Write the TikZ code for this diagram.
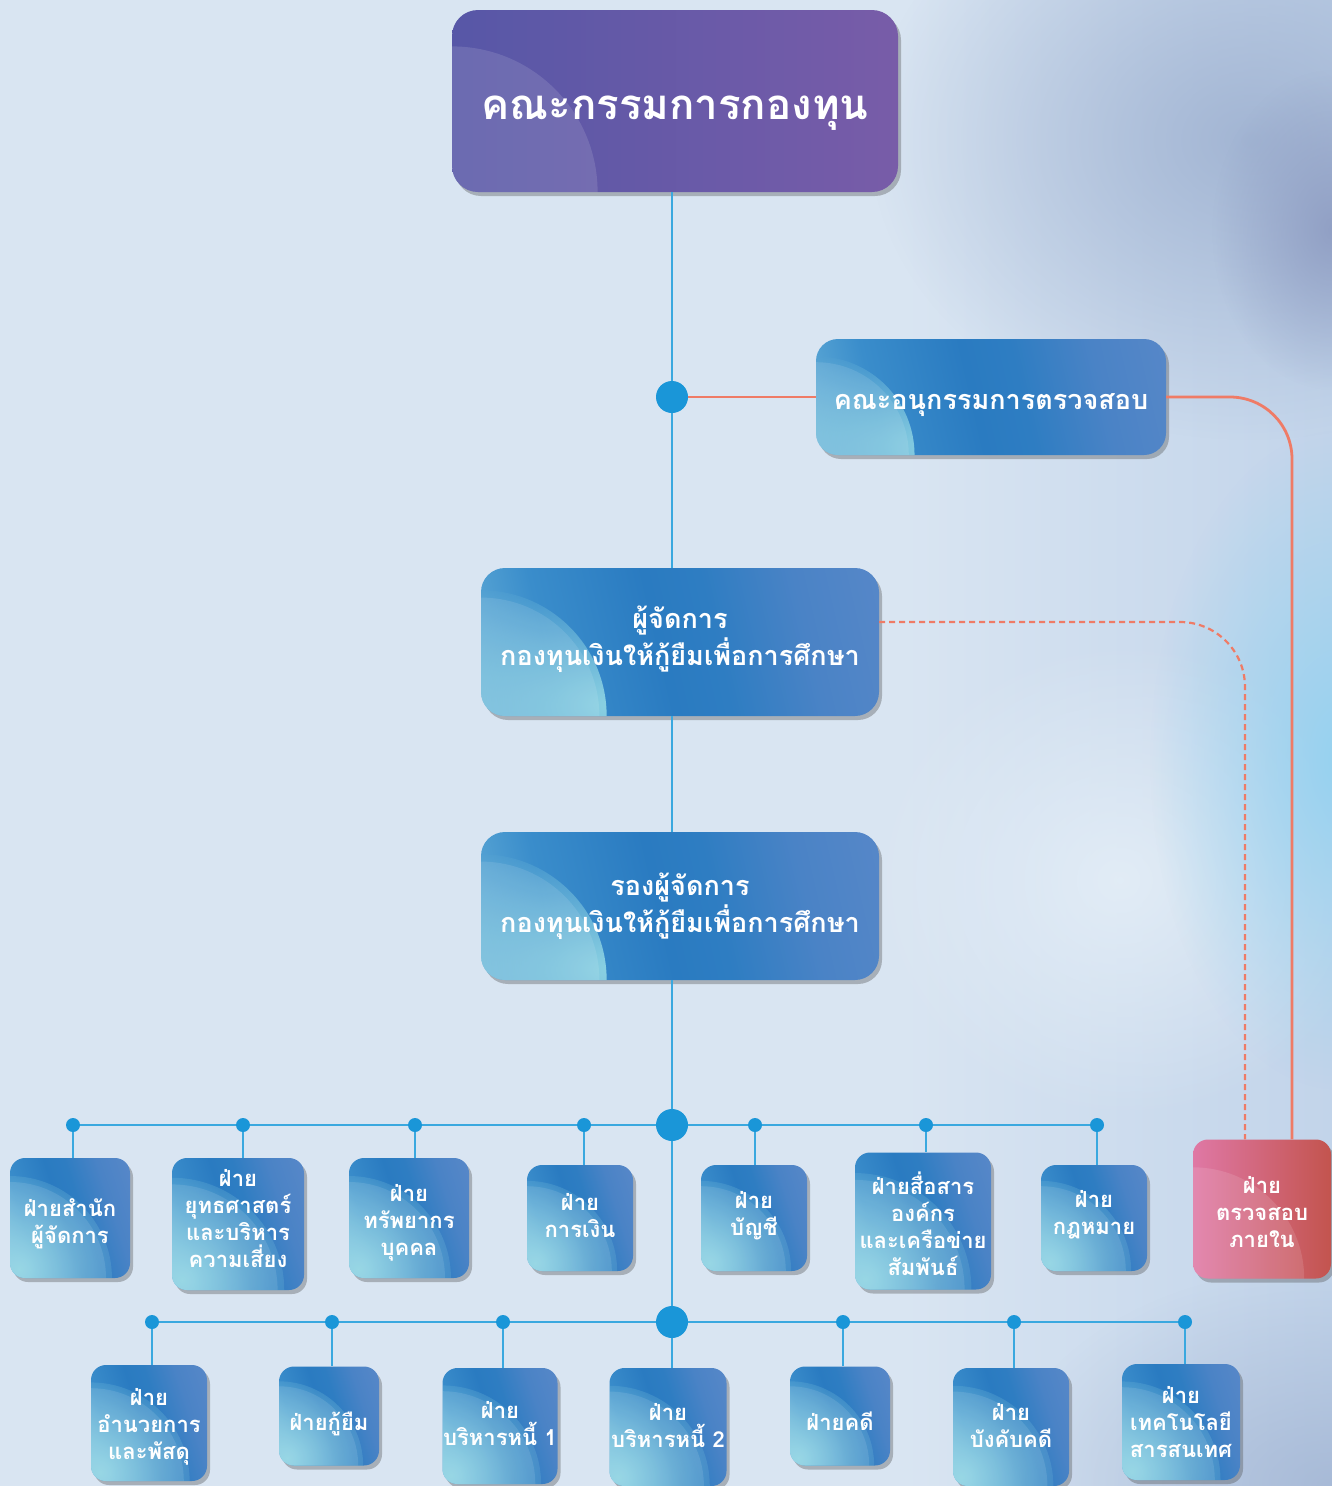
\documentclass[tikz,border=0pt]{standalone}
\usepackage{fontspec}
\newfontfamily\thai[Script=Thai]{Loma}
\usetikzlibrary{shadows,calc,fadings}
\definecolor{bgc}{HTML}{D9E5F2}
\definecolor{bgr}{HTML}{C2D4EA}
\definecolor{blobG}{HTML}{9CAFCF}
\definecolor{blobD}{HTML}{8A98BF}
\definecolor{blobS}{HTML}{96D2F0}
\definecolor{blobW}{HTML}{E4EEF7}
\definecolor{lineB}{HTML}{3AA8DF}
\definecolor{dotB}{HTML}{1A96D8}
\definecolor{lineR}{HTML}{EF7B66}
\definecolor{cyanL}{HTML}{8DD3E3}
\definecolor{leftL}{HTML}{5FAAD6}
\definecolor{tlB}{HTML}{3A8DCB}
\definecolor{deepB}{HTML}{2A7BC1}
\definecolor{deepB2}{HTML}{2E7DC2}
\definecolor{rB}{HTML}{4A83C6}
\definecolor{topB}{HTML}{5687C8}
\definecolor{purL}{HTML}{5757A7}
\definecolor{purR}{HTML}{785CA8}
\definecolor{pinkL}{HTML}{DF78A5}
\definecolor{pinkR}{HTML}{C3544E}
\pgfdeclarehorizontalshading{bluesh}{100bp}{color(0bp)=(leftL); color(20bp)=(leftL); color(31bp)=(tlB); color(47bp)=(deepB); color(55bp)=(deepB2); color(68bp)=(rB); color(80bp)=(topB); color(100bp)=(topB)}
\tikzfading[name=cfade, inner color=transparent!0, outer color=transparent!100]
% #1 box style, #2 text style, #3 name, #4 position, #5 width, #6 height, #7 text yshift, #8 text
\newcommand\orgbox[8]{%
  \node[#1, minimum width=#5pt, minimum height=#6pt] (#3) at (#4) {};
  \node[#2, yshift=#7pt] (#3t) at (#3.center) {#8};}
\begin{document}
\begin{tikzpicture}[x=1pt,y=-1pt,
  bl/.style={draw=lineB, line width=2.8pt},
  rl/.style={draw=lineR, line width=2.8pt},
  dotbig/.style={circle, fill=dotB, inner sep=0pt, minimum size=32pt},
  dotsm/.style={circle, fill=dotB, inner sep=0pt, minimum size=14pt},
  hl/.style={path picture={\fill[white,fill opacity=.12] let \p1=(path picture bounding box.south west), \p2=(path picture bounding box.north east) in (\x1,\y1) ellipse ({0.8*(\y2-\y1)} and {0.8*(\y2-\y1)});}},
  hlb/.style={path picture={
     \fill[cyanL, path fading=cfade] let \p1=(path picture bounding box.south west), \p2=(path picture bounding box.north east) in (\x1,\y1) circle ({0.85*(\y2-\y1)});
     \fill[white,fill opacity=.10] let \p1=(path picture bounding box.south west), \p2=(path picture bounding box.north east) in (\x1,\y1) ellipse ({0.8*(\y2-\y1)} and {0.8*(\y2-\y1)});}},
  boxbase/.style={rectangle, inner sep=0pt, drop shadow={shadow xshift=3pt, shadow yshift=-4pt, opacity=.35, fill=black!70}},
  bbox/.style={boxbase, hlb, shading=bluesh, shading angle=18, rounded corners=15pt},
  bigbox/.style={boxbase, hlb, shading=bluesh, shading angle=13, rounded corners=24pt},
  auditbox/.style={bigbox, rounded corners=22pt},
  boardbox/.style={boxbase, hl, left color=purL, right color=purR, rounded corners=26pt},
  pinkbox/.style={boxbase, hl, left color=pinkL, right color=pinkR, rounded corners=15pt},
  txtbase/.style={text=white, align=center, inner sep=0pt},
  stxt/.style={txtbase, font=\thai\bfseries\fontsize{22}{27}\selectfont},
  btxt/.style={txtbase, font=\thai\bfseries\fontsize{27}{37}\selectfont},
  ttxt/.style={txtbase, font=\thai\bfseries\fontsize{42}{48}\selectfont},
  blob/.style={path fading=cfade},
]
\fill[bgc] (0,0) rectangle (1332,1486);
\useasboundingbox (0,0) rectangle (1332,1486);
% soft photographic background on the right
\begin{scope}
\clip (0,0) rectangle (1332,1486);
\shade[left color=bgc, right color=bgr] (900,0) rectangle (1332,1486);
\fill[blobG, blob, fill opacity=.85] (1250,140) ellipse (380pt and 300pt);
\fill[blobD, blob, fill opacity=.8] (1332,230) ellipse (120pt and 160pt);
\fill[blobW, blob, fill opacity=.9] (1120,880) ellipse (260pt and 240pt);
\fill[blobS, blob] (1340,760) ellipse (190pt and 330pt);
\fill[blobG, blob, fill opacity=.7] (1332,1486) ellipse (330pt and 220pt);
\end{scope}

% top level
\orgbox{boardbox}{ttxt}{board}{675,101}{446}{182}{-12}{คณะกรรมการกองทุน}
\orgbox{auditbox}{btxt}{audit}{991,397}{350}{116}{-8}{คณะอนุกรรมการตรวจสอบ}
\orgbox{bigbox}{btxt}{mgr}{680,642}{398}{148}{3}{ผู้จัดการ\\กองทุนเงินให้กู้ยืมเพื่อการศึกษา}
\orgbox{bigbox}{btxt}{dep}{680,906}{398}{148}{0}{รองผู้จัดการ\\กองทุนเงินให้กู้ยืมเพื่อการศึกษา}

% row 1
\orgbox{bbox}{stxt}{b1}{70,1218}{120}{120}{-6}{ฝ่ายสำนัก\\ผู้จัดการ}
\orgbox{bbox}{stxt}{b2}{238,1224}{132}{132}{5}{ฝ่าย\\ยุทธศาสตร์\\และบริหาร\\ความเสี่ยง}
\orgbox{bbox}{stxt}{b3}{409,1218}{120}{120}{-5}{ฝ่าย\\ทรัพยากร\\บุคคล}
\orgbox{bbox}{stxt}{b4}{580,1218}{106}{106}{2}{ฝ่าย\\การเงิน}
\orgbox{bbox}{stxt}{b5}{754,1218}{106}{106}{2}{ฝ่าย\\บัญชี}
\orgbox{bbox}{stxt}{b6}{923,1221}{136}{137}{-3}{ฝ่ายสื่อสาร\\องค์กร\\และเครือข่าย\\สัมพันธ์}
\orgbox{bbox}{stxt}{b7}{1094,1218}{106}{106}{3}{ฝ่าย\\กฎหมาย}
\orgbox{pinkbox}{stxt}{pink}{1262,1209}{138}{139}{-3}{ฝ่าย\\ตรวจสอบ\\ภายใน}

% row 2
\orgbox{bbox}{stxt}{c1}{149,1423}{116}{116}{-4}{ฝ่าย\\อำนวยการ\\และพัสดุ}
\orgbox{bbox}{stxt}{c2}{329,1416}{100}{99}{-8}{ฝ่ายกู้ยืม}
\orgbox{bbox}{stxt}{c3}{500,1426}{115}{116}{2}{ฝ่าย\\บริหารหนี้ 1}
\orgbox{bbox}{stxt}{c4}{668,1427}{117}{118}{2}{ฝ่าย\\บริหารหนี้ 2}
\orgbox{bbox}{stxt}{c5}{840,1416}{100}{99}{-5}{ฝ่ายคดี}
\orgbox{bbox}{stxt}{c6}{1011,1427}{116}{118}{2}{ฝ่าย\\บังคับคดี}
\orgbox{bbox}{stxt}{c7}{1181,1422}{118}{116}{0}{ฝ่าย\\เทคโนโลยี\\สารสนเทศ}

% dots
\node[dotbig] (d1) at (672,397) {};
\node[dotbig] (d2) at (672,1125) {};
\node[dotbig] (d3) at (672,1322) {};
\foreach \n/\x in {a/73,b/243,c/415,d/584,e/755,f/926,g/1097}
  \node[dotsm] (r1\n) at (\x,1125) {};
\foreach \n/\x in {a/152,b/332,c/503,e/843,f/1014,g/1185}
  \node[dotsm] (r2\n) at (\x,1322) {};

% main spine
\draw[bl] (board.south -| d1) -- (d1);
\draw[bl] (d1) -- (mgr.north -| d1);
\draw[bl] (mgr.south -| d1) -- (dep.north -| d1);
\draw[bl] (dep.south -| d1) -- (d2);
\draw[bl] (d2) -- (d3);
\draw[bl] (d3) -- (c4.north -| d3);

% buses
\draw[bl] (r1a) -- (r1b) -- (r1c) -- (r1d) -- (d2) -- (r1e) -- (r1f) -- (r1g);
\draw[bl] (r2a) -- (r2b) -- (r2c) -- (d3) -- (r2e) -- (r2f) -- (r2g);
\draw[bl] (r1a) -- (r1a |- b1.north);
\draw[bl] (r1b) -- (r1b |- b2.north);
\draw[bl] (r1c) -- (r1c |- b3.north);
\draw[bl] (r1d) -- (r1d |- b4.north);
\draw[bl] (r1e) -- (r1e |- b5.north);
\draw[bl] (r1f) -- (r1f |- b6.north);
\draw[bl] (r1g) -- (r1g |- b7.north);
\draw[bl] (r2a) -- (r2a |- c1.north);
\draw[bl] (r2b) -- (r2b |- c2.north);
\draw[bl] (r2c) -- (r2c |- c3.north);
\draw[bl] (r2e) -- (r2e |- c5.north);
\draw[bl] (r2f) -- (r2f |- c6.north);
\draw[bl] (r2g) -- (r2g |- c7.north);

% audit lines
\coordinate (pinkA) at ([xshift=30pt]pink.north);
\coordinate (pinkD) at ([xshift=-17pt]pink.north);
\draw[rl] (d1) -- (d1 -| audit.west);
\draw[rl, rounded corners=62pt] (audit.east) -| (pinkA);
\draw[draw=lineR, line width=2.2pt, dash pattern=on 6pt off 4pt, rounded corners=65pt] ([yshift=20pt]mgr.east) -| (pinkD);
\end{tikzpicture}
\end{document}
